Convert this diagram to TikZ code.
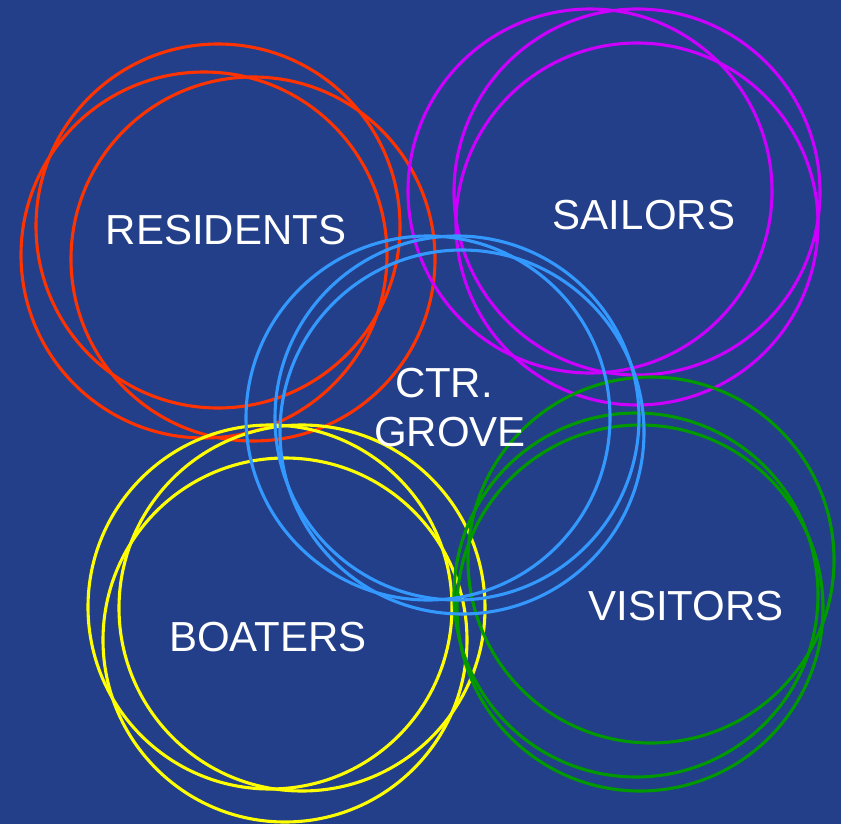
\documentclass[tikz,border=0pt]{standalone}
\usepackage{fontspec}
\setmainfont{Liberation Sans}
\definecolor{bgblue}{RGB}{35,63,138}
\definecolor{resred}{RGB}{255,51,0}
\definecolor{sailpurple}{RGB}{204,0,255}
\definecolor{grovblue}{RGB}{51,153,255}
\definecolor{boatyellow}{RGB}{255,255,0}
\definecolor{visgreen}{RGB}{0,153,0}
\begin{document}
\begin{tikzpicture}[x=1pt, y=-1pt,
    ring/.style={line width=3.1pt},
    grouplabel/.style={text=white, font=\fontsize{42}{49}\selectfont, align=center, inner sep=0pt}]
        \fill[bgblue] (0,0) rectangle (841,824);
        \useasboundingbox (0,0) rectangle (841,824);

        % residents
        \draw[ring, resred] (218,226) circle (182pt);
        \draw[ring, resred] (204,255) circle (183pt);
        \draw[ring, resred] (253,259) circle (182pt);

        % sailors
        \draw[ring, sailpurple] (590,191) circle (182pt);
        \draw[ring, sailpurple] (637,192) circle (183pt);
        \draw[ring, sailpurple] (637,224) circle (181pt);

        % boaters
        \draw[ring, boatyellow] (270,607) circle (182pt);
        \draw[ring, boatyellow] (285,640) circle (182pt);
        \draw[ring, boatyellow] (302,608) circle (183pt);

        % visitors
        \draw[ring, visgreen] (651,560) circle (183pt);
        \draw[ring, visgreen] (636,595) circle (182pt);
        \draw[ring, visgreen] (640,608) circle (183pt);

        % centre grove
        \draw[ring, grovblue] (428,418) circle (182pt);
        \draw[ring, grovblue] (457,418) circle (182pt);
        \draw[ring, grovblue] (462,432) circle (182pt);

        \node[grouplabel] (residents) at (226,230) {RESIDENTS};
        \node[grouplabel] (sailors) at (644,215) {SAILORS};
        \node[grouplabel] (grove) at (450,408) {\hspace*{-12pt}CTR.\\GROVE};
        \node[grouplabel] (boaters) at (268,637) {BOATERS};
        \node[grouplabel] (visitors) at (686,606) {VISITORS};
      \end{tikzpicture}
\end{document}
